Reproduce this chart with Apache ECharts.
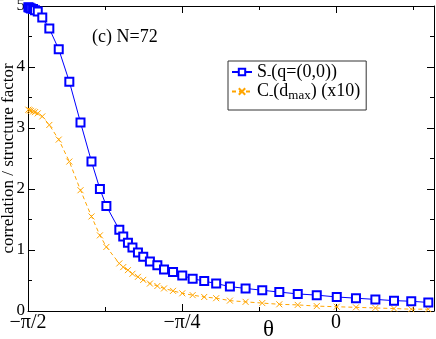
<!DOCTYPE html>
<html>
<head>
<meta charset="utf-8">
<script src="https://cdn.jsdelivr.net/npm/echarts@6/dist/echarts.min.js"></script>
<style>
  html, body { margin: 0; padding: 0; background: #fff; }
  #chart { width: 436px; height: 339px; }
</style>
</head>
<body>
<div id="chart"></div>
<script>
  // theta (rad)
  const theta = [-1.569, -1.563, -1.556, -1.545, -1.535, -1.521, -1.498, -1.462, -1.414, -1.360,
    -1.303, -1.247, -1.204, -1.171, -1.105, -1.085, -1.061, -1.038, -1.010, -0.983,
    -0.949, -0.911, -0.877, -0.831, -0.784, -0.731, -0.672, -0.611, -0.541, -0.461,
    -0.376, -0.289, -0.195, -0.098, 0.004, 0.102, 0.201, 0.296, 0.384, 0.471]
  // S_(q=(0,0))
  const structureFactor = [4.98, 4.97, 4.96, 4.95, 4.93, 4.91, 4.81, 4.63, 4.29, 3.76,
    3.09, 2.45, 2.00, 1.72, 1.33, 1.22, 1.12, 1.04, 0.96, 0.89,
    0.81, 0.75, 0.68, 0.64, 0.58, 0.53, 0.49, 0.45, 0.40, 0.37,
    0.34, 0.31, 0.28, 0.26, 0.23, 0.21, 0.19, 0.17, 0.16, 0.14]
  // C_(d_max) x10
  const correlation = [3.30, 3.29, 3.28, 3.27, 3.26, 3.24, 3.19, 3.05, 2.81, 2.45,
    1.98, 1.55, 1.24, 1.05, 0.78, 0.72, 0.67, 0.61, 0.56, 0.51,
    0.45, 0.41, 0.37, 0.33, 0.29, 0.26, 0.23, 0.21, 0.17, 0.15,
    0.13, 0.11, 0.10, 0.08, 0.07, 0.06, 0.05, 0.04, 0.03, 0.03]
  const xTickLabels = { '-2': '−π/2', '-1': '−π/4', '0': '0' }

  const serif = 'Liberation Serif'
  const blue = '#0000ff'
  const orange = '#ffa500'
  const Q = Math.PI / 4

  const chart = echarts.init(document.getElementById('chart'))

  const xLabel = (v) => {
    const k = v / Q
    if (Math.abs(k - Math.round(k)) > 1e-6) return ''
    return xTickLabels[String(Math.round(k))] || ''
  }

  const xBase = (pos, interval, len, labels, line) => ({
    type: 'value',
    position: pos,
    min: -Math.PI / 2,
    max: 0.5,
    interval: interval,
    axisLine: { show: line, onZero: false, lineStyle: { color: '#000', width: 1 } },
    axisTick: { show: true, inside: true, length: len, lineStyle: { color: '#000' } },
    axisLabel: labels
      ? { show: true, margin: 2, formatter: xLabel, fontFamily: serif, fontSize: 20, color: '#000', showMaxLabel: false }
      : { show: false },
    splitLine: { show: false },
  })

  const yBase = (pos, labels) => ({
    type: 'value',
    position: pos,
    min: 0,
    max: 5,
    interval: 1,
    name: labels ? 'correlation / structure factor' : '',
    nameLocation: 'middle',
    nameGap: 11,
    nameMoveOverlap: false,
    nameTextStyle: { fontFamily: serif, fontSize: 17, color: '#000' },
    axisLine: { show: true, onZero: false, lineStyle: { color: '#000', width: 1 } },
    axisTick: { show: true, inside: true, length: 7, lineStyle: { color: '#000' } },
    minorTick: { show: true, splitNumber: 2, length: 4, lineStyle: { color: '#000' } },
    axisLabel: labels
      ? { show: true, margin: 3, fontFamily: serif, fontSize: 17, color: '#000' }
      : { show: false },
    splitLine: { show: false },
    minorSplitLine: { show: false },
  })

  chart.setOption({
    animation: false,
    backgroundColor: '#fff',
    grid: { left: 28, right: 2, top: 6, bottom: 28, outerBoundsMode: 'none', containLabel: false },
    xAxis: [
      xBase('bottom', Q, 7, true, true),
      xBase('bottom', Q / 2, 4, false, false),
      xBase('top', Q, 7, false, true),
      xBase('top', Q / 2, 4, false, false),
    ],
    yAxis: [yBase('left', true), yBase('right', false)],
    legend: {
      orient: 'vertical',
      left: 228,
      top: 61,
      selectedMode: false,
      borderColor: '#333',
      borderWidth: 1,
      padding: [2, 6, 8, 3],
      itemGap: 0,
      itemWidth: 20,
      itemHeight: 8,
      formatter: (name) => name === 'S'
        ? '{t|S}{s|-}{t|(q=(0,0))}'
        : '{t|C}{s|-}{t|(d}{m|max}{t|) (x10)}',
      textStyle: {
        fontFamily: serif,
        fontSize: 18,
        color: '#000',
        rich: {
          t: { fontFamily: serif, fontSize: 18, color: '#000', lineHeight: 21 },
          s: { fontFamily: serif, fontSize: 13, color: '#000', verticalAlign: 'bottom', lineHeight: 13 },
          m: { fontFamily: serif, fontSize: 13, color: '#000', verticalAlign: 'bottom', lineHeight: 11 },
        },
      },
      data: ['S', 'C'],
    },
    graphic: [
      { type: 'text', left: 92, top: 28, style: { text: '(c) N=72', font: '18px "Liberation Serif"', fill: '#000' } },
      { type: 'text', left: 263, top: 318, style: { text: 'θ', font: '23px "Liberation Serif"', fill: '#000' } },
    ],
    series: [
      {
        name: 'S',
        type: 'line',
        xAxisIndex: 0,
        yAxisIndex: 0,
        data: theta.map((t, i) => [t, structureFactor[i]]),
        symbol: 'emptyRect',
        symbolSize: 8,
        lineStyle: { color: blue, width: 1 },
        itemStyle: { color: blue, borderWidth: 1 },
        z: 3,
      },
      {
        name: 'C',
        type: 'line',
        xAxisIndex: 0,
        yAxisIndex: 0,
        data: theta.map((t, i) => [t, correlation[i]]),
        symbol: 'path://M0,0L10,10M10,0L0,10',
        symbolSize: 6,
        lineStyle: { color: orange, width: 1, type: [4, 3] },
        itemStyle: { color: orange, borderColor: orange, borderWidth: 1 },
        z: 2,
      },
    ],
  })
</script>
</body>
</html>
